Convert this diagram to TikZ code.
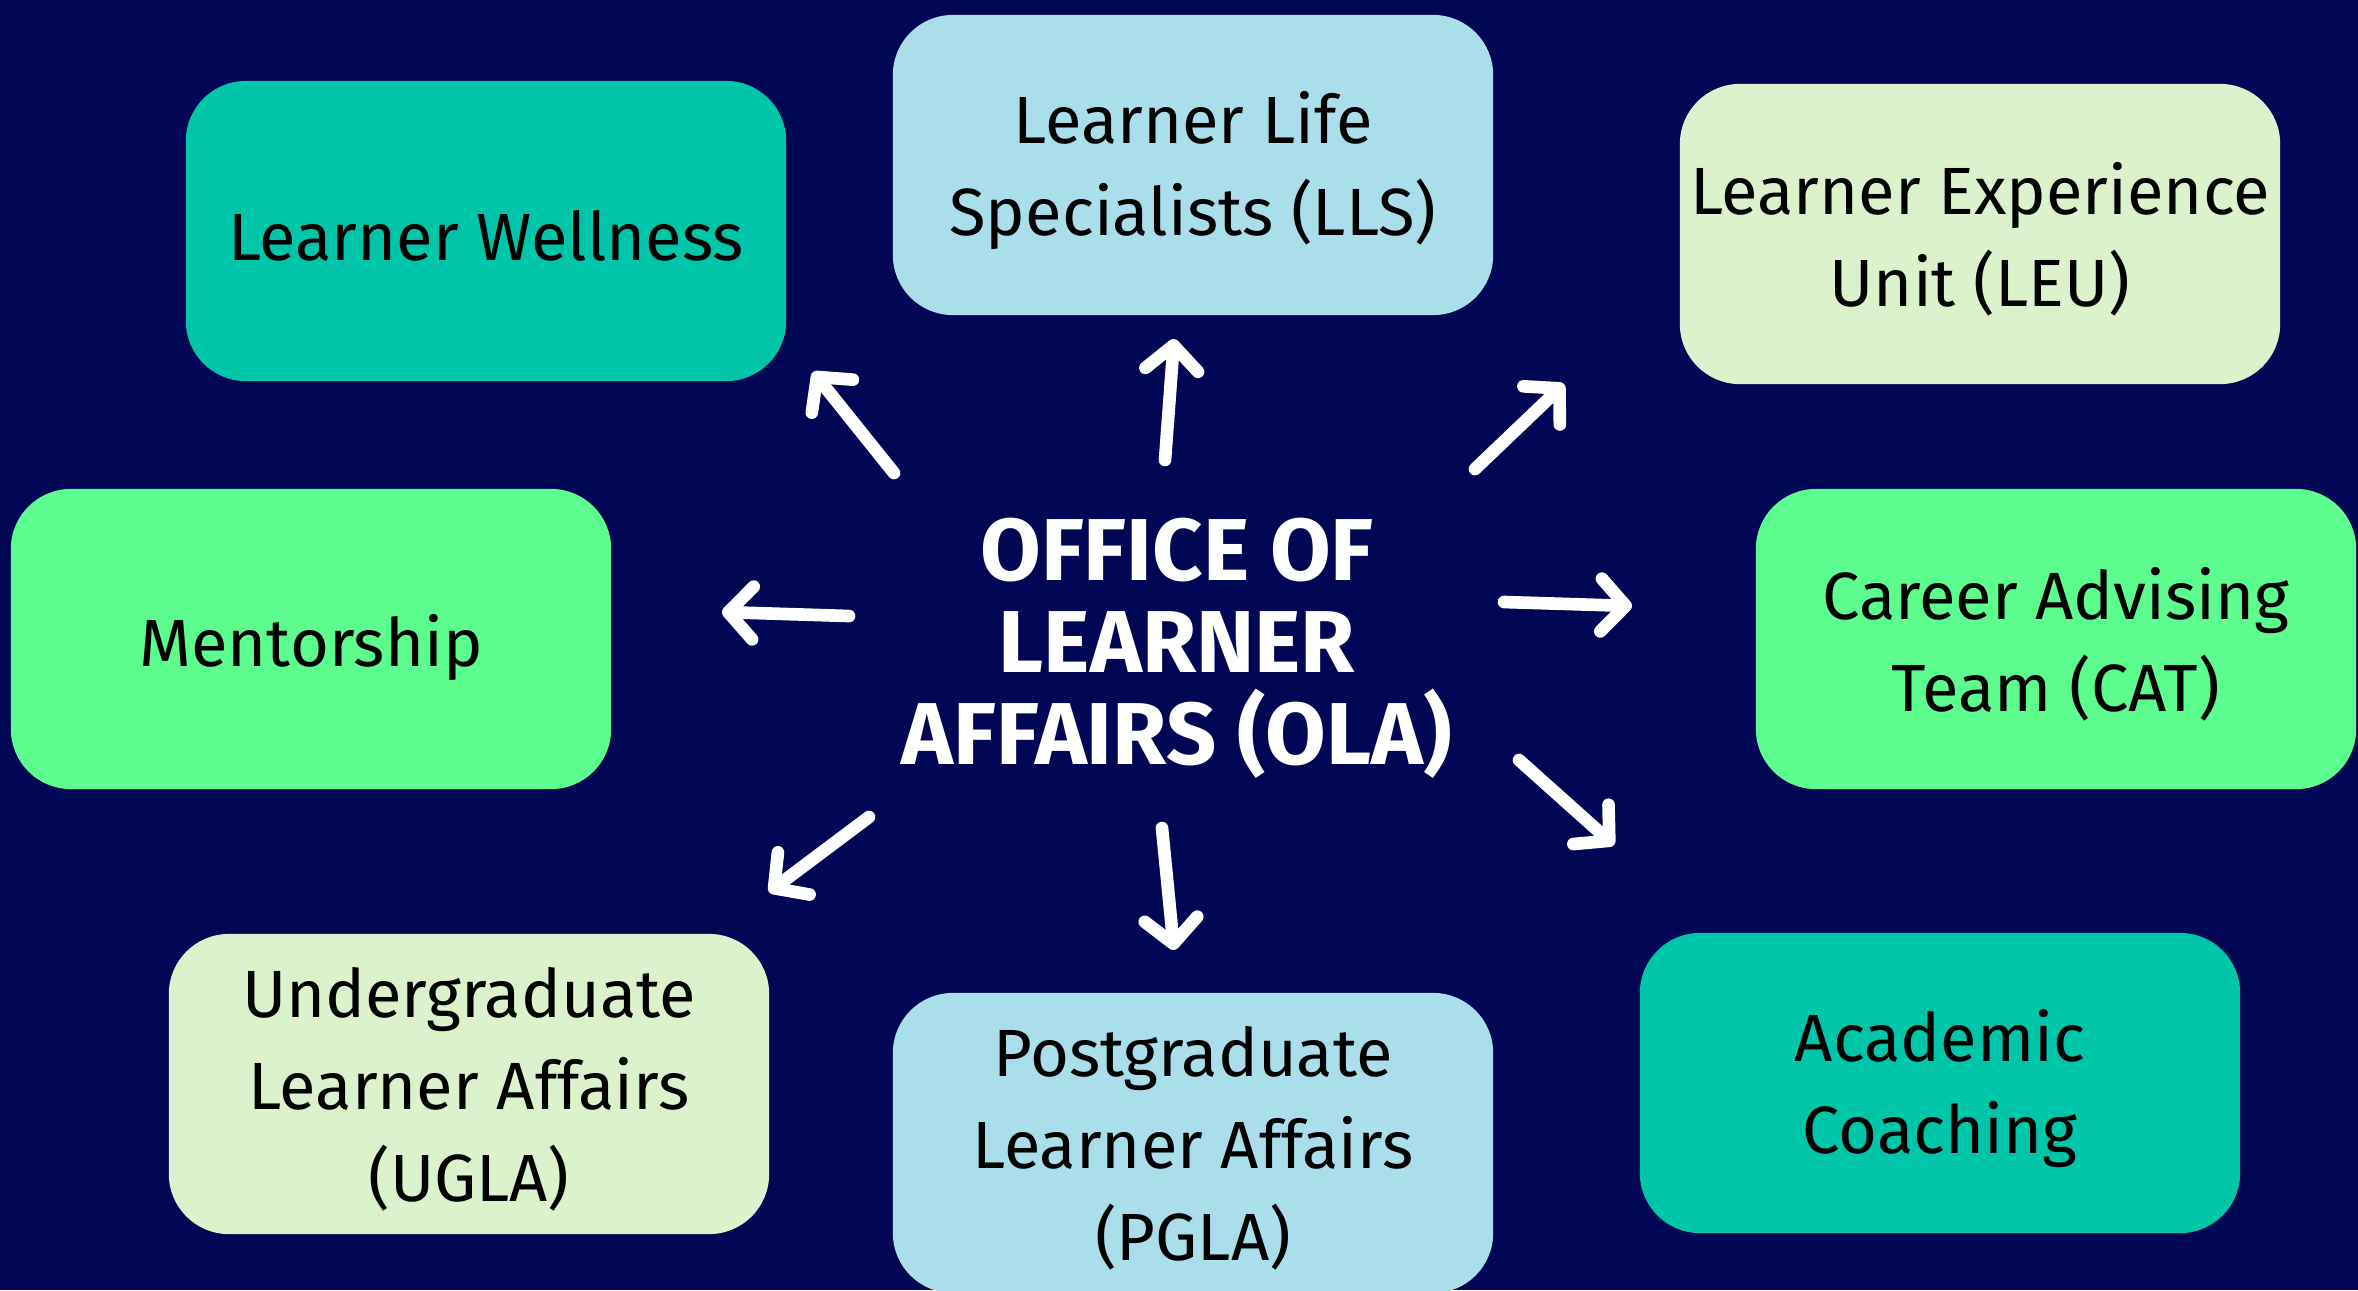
\documentclass[tikz,border=0pt]{standalone}
\usepackage{fontspec}
\setmainfont{Fira Sans}
\newfontfamily\titlefont{Fira Sans}
\usetikzlibrary{arrows.meta}
\definecolor{bgnavy}{HTML}{010655}
\definecolor{teal}{HTML}{00C6A9}
\definecolor{lblue}{HTML}{A9DEEA}
\definecolor{lgreen}{HTML}{DCF2CD}
\definecolor{bgreen}{HTML}{5DFC8F}
\tikzset{
  box/.style={rectangle, rounded corners=0.6cm, minimum width=6cm, minimum height=3cm, inner sep=0pt},
  boxtext/.style={align=center, text=black, font=\fontsize{19}{26.2}\selectfont, inner sep=0pt},
  title/.style={align=center, text=white, font=\titlefont\bfseries\fontsize{25}{26.2}\selectfont},
  arr/.style={draw=white, line width=3.6pt, line cap=round,
    -{Straight Barb[length=7pt, width=15pt, round]}}
}
\begin{document}
\begin{tikzpicture}[x=0.01cm, y=-0.01cm]
\fill[bgnavy] (0,0) rectangle (2358,1290);
\useasboundingbox (0,0) rectangle (2358,1290);
\node[box, fill=teal] (lw) at (486,231) {};
\node[box, fill=lblue] (lls) at (1193,165) {};
\node[box, fill=lgreen] (leu) at (1980,234) {};
\node[box, fill=bgreen] (ment) at (311,639) {};
\node[box, fill=bgreen] (cat) at (2056,639) {};
\node[box, fill=lgreen] (ugla) at (469,1084) {};
\node[box, fill=lblue] (pgla) at (1193,1143) {};
\node[box, fill=teal] (ac) at (1940,1083) {};
\node[boxtext] (lwt) at ([yshift=-1.5pt]lw.center) {Learner Wellness};
\node[boxtext] (llst) at ([yshift=-1.5pt]lls.center) {Learner Life\\Specialists (LLS)};
\node[boxtext] (leut) at ([yshift=-1.5pt]leu.center) {Learner Experience\\Unit (LEU)};
\node[boxtext] (mentt) at ([yshift=-2.5pt]ment.center) {Mentorship};
\node[boxtext] (catt) at ([yshift=-1.5pt]cat.center) {Career Advising\\Team (CAT)};
\node[boxtext] (uglat) at ([yshift=-1.5pt]ugla.center) {Undergraduate\\Learner Affairs\\(UGLA)};
\node[boxtext] (pglat) at ([yshift=-1.5pt]pgla.center) {Postgraduate\\Learner Affairs\\(PGLA)};
\node[boxtext] (act) at ([yshift=-1.5pt]ac.center) {Academic\\Coaching};
\node[title] (ola) at (1177,648) {OFFICE OF\\LEARNER\\AFFAIRS (OLA)};
% arrow end points
\coordinate (t1) at (894,473); \coordinate (h1) at (813,372);
\coordinate (t2) at (1165,460); \coordinate (h2) at (1174,339);
\coordinate (t3) at (1475,469); \coordinate (h3) at (1564,384);
\coordinate (t4) at (849,616); \coordinate (h4) at (722,612);
\coordinate (t5) at (1504,602); \coordinate (h5) at (1632,606);
\coordinate (t6) at (869,817); \coordinate (h6) at (769,892);
\coordinate (t7) at (1162,828); \coordinate (h7) at (1174,950);
\coordinate (t8) at (1519,760); \coordinate (h8) at (1614,845);
\draw[arr] (t1) -- (h1);
\draw[arr] (t2) -- (h2);
\draw[arr] (t3) -- (h3);
\draw[arr] (t4) -- (h4);
\draw[arr] (t5) -- (h5);
\draw[arr] (t6) -- (h6);
\draw[arr] (t7) -- (h7);
\draw[arr] (t8) -- (h8);
\end{tikzpicture}
\end{document}
